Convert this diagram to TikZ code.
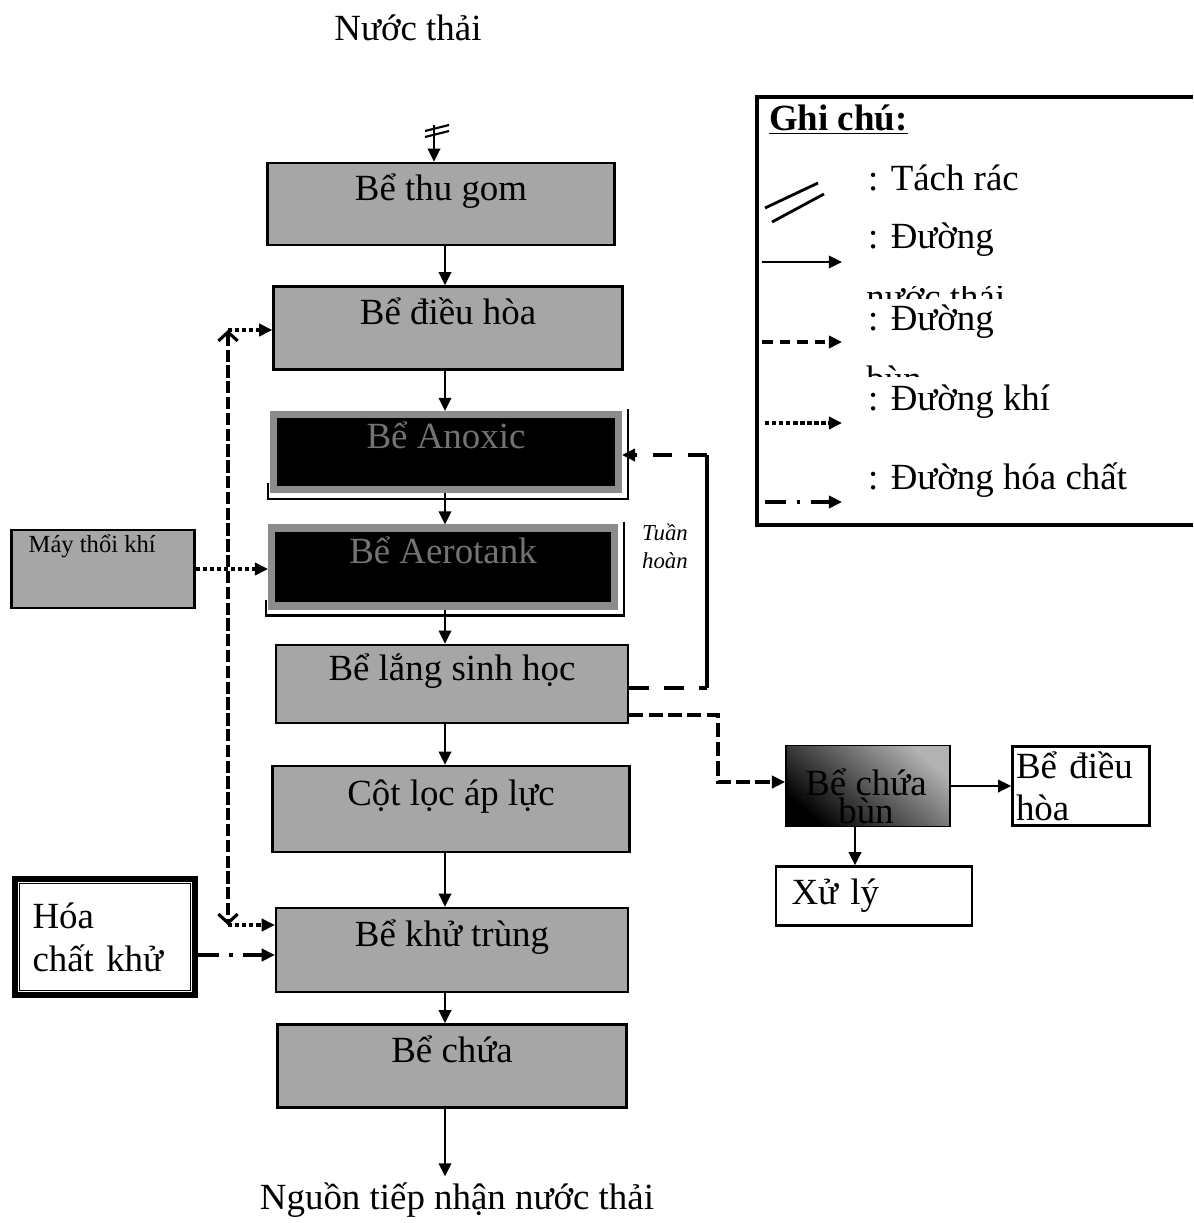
\documentclass[tikz,border=0pt]{standalone}
\usepackage{fontspec}
\setmainfont{Liberation Serif}
\usetikzlibrary{arrows.meta}

\begin{document}
\begin{tikzpicture}[
    x=0.02cm,
    y=-0.02cm,
    >={Triangle[length=7.5pt,width=7pt]},
    big/.style={font=\fontsize{21}{25}\selectfont},
    tank/.style={
        draw,
        line width=1.4pt,
        fill=black!35,
        big,
        text height=0.55cm,
        text depth=0.7cm
    },
    darktank/.style={
        tank,
        fill=black,
        draw=black!45,
        line width=4pt,
        text=black!55
    },
    plainbox/.style={
        draw,
        line width=1.4pt,
        align=left,
        inner sep=2pt
    },
    flow/.style={->,line width=1.6pt},
    sludge/.style={->,line width=1.8pt,dash pattern=on 8pt off 3pt},
    recycle/.style={line width=1.8pt,dash pattern=on 11pt off 9pt},
    air/.style={->,line width=1.8pt,dash pattern=on 2.5pt off 1.5pt},
    airpipe/.style={
        {Straight Barb[length=5pt,width=11pt]}-{Straight Barb[length=5pt,width=11pt]},
        line width=1.8pt,
        dash pattern=on 7pt off 2pt
    },
    chem/.style={->,line width=1.8pt,dash pattern=on 12pt off 6pt on 2pt off 6pt}
]

\useasboundingbox (0,0) rectangle (1193,1223);

\node[big] (nuocThai) at (408,28) {Nước thải};

\node[tank,minimum width=6.94cm,minimum height=1.64cm] (thuGom) at (441,204) {Bể thu gom};
\node[tank,minimum width=6.98cm,minimum height=1.66cm] (dieuHoa) at (448,328) {Bể điều hòa};
\node[darktank,minimum width=6.9cm,minimum height=1.5cm] (anoxic) at (446,452) {Bể Anoxic};
\node[darktank,minimum width=6.86cm,minimum height=1.56cm] (aerotank) at (443,567) {Bể Aerotank};
\node[tank,minimum width=7.04cm,minimum height=1.56cm] (lang) at (452,684) {Bể lắng sinh học};
\node[tank,minimum width=7.14cm,minimum height=1.72cm] (cotLoc) at (451,809) {Cột lọc áp lực};
\node[tank,minimum width=7.04cm,minimum height=1.68cm] (khuTrung) at (452,950) {Bể khử trùng};
\node[tank,minimum width=6.98cm,minimum height=1.66cm] (beChua) at (452,1066) {Bể chứa};

\node[big] (nguon) at (457,1200) {Nguồn tiếp nhận nước thải};

\draw[line width=1.4pt] ([shift={(6,-2)}]anoxic.north east) -- ([shift={(6,6)}]anoxic.south east) -- ([shift={(-2,6)}]anoxic.south west) -- ([shift={(-2,-10)}]anoxic.south west);
\draw[line width=1.4pt] ([shift={(6,-2)}]aerotank.north east) -- ([shift={(6,6)}]aerotank.south east) -- ([shift={(-2,6)}]aerotank.south west) -- ([shift={(-2,-10)}]aerotank.south west);

\coordinate (col) at (445,0);
\coordinate (inlet) at (434,125);

\draw[flow] (inlet) -- (inlet |- thuGom.north);
\draw[line width=1.2pt] (425,131) -- (449,125);
\draw[line width=1.2pt] (425,137) -- (449,131);

\draw[flow] (thuGom.south -| col) -- (dieuHoa.north -| col);
\draw[flow] (dieuHoa.south -| col) -- (anoxic.north -| col);
\draw[flow] (anoxic.south -| col) -- (aerotank.north -| col);
\draw[flow] (aerotank.south -| col) -- (lang.north -| col);
\draw[flow] (lang.south -| col) -- (cotLoc.north -| col);
\draw[flow] (cotLoc.south -| col) -- (khuTrung.north -| col);
\draw[flow] (khuTrung.south -| col) -- (beChua.north -| col);
\draw[flow] (beChua.south -| col) -- (nguon.north -| col);

% khi
\node[draw,line width=1.4pt,fill=black!35,minimum width=3.66cm,minimum height=1.56cm,
    label={[anchor=north west,xshift=0.36cm,yshift=-0.12cm,inner sep=0pt,font=\fontsize{14}{16}\selectfont]north west:Máy thổi khí}]
    (mayThoi) at (103,569) {};

\coordinate (airTop) at (228,330);
\coordinate (airBot) at (228,925);

\draw[air] (mayThoi.east) -- (mayThoi.east -| aerotank.west);
\draw[airpipe] (airTop) -- (airBot);
\draw[air] (airTop) -- (airTop -| dieuHoa.west);
\draw[air] (airBot) -- (airBot -| khuTrung.west);

% hoa chat
\node[plainbox,line width=3pt,minimum width=3.6cm,minimum height=2.32cm,text width=2.9cm,
    font=\fontsize{21}{24.5}\selectfont] (hoaChat) at (105,937) {Hóa\\chất khử};
\draw[line width=0.8pt] ([shift={(7,7)}]hoaChat.north west) rectangle ([shift={(-7,-7)}]hoaChat.south east);
\draw[chem] ([yshift=-0.36cm]hoaChat.east) -- ([yshift=-0.36cm]hoaChat.east -| khuTrung.west);

% tuan hoan
\coordinate (recTop) at (707,455);
\coordinate (recBot) at (707,688);

\draw[recycle] (lang.east |- recBot) -- (recBot);
\draw[line width=1.8pt] (recBot) -- (recTop);
\draw[recycle,->] (recTop) -- (recTop -| anoxic.east);
\node[font=\itshape\fontsize{13}{16}\selectfont,align=left] (tuanHoan) at (665,546) {Tuần\\hoàn};

% bun
\node[draw,line width=1pt,top color=black!30,bottom color=black,shading angle=-40,
    minimum width=3.28cm,minimum height=1.62cm] (chuaBun) at (868,786) {};
\node[align=center,font=\fontsize{21}{14}\selectfont] (chuaBunText) at (866,796) {Bể chứa\\bùn};

\node[plainbox,minimum width=2.74cm,minimum height=1.58cm,text width=2.6cm,
    font=\fontsize{21}{24}\selectfont] (dieuHoaB) at (1081,786) {Bể điều\\hòa};
\node[plainbox,minimum width=3.92cm,minimum height=1.18cm,text width=3.3cm,
    font=\fontsize{21}{24}\selectfont] (xuLy) at (874,896) {Xử lý};

\coordinate (bunA) at (718,715);
\coordinate (bunB) at (718,782);

\draw[sludge] (lang.east |- bunA) -- (bunA) -- (bunB) -- (bunB -| chuaBun.west);
\draw[flow] (chuaBun.east) -- (dieuHoaB.west);
\draw[flow] ([xshift=-0.26cm]chuaBun.south) -- ([xshift=-0.26cm]chuaBun.south |- xuLy.north);

% ghi chu
\draw[line width=1.8pt] (1193,97) -- (757,97) -- (757,525) -- (1193,525);
\node[anchor=west,font=\bfseries\fontsize{21}{25}\selectfont] (ghiChu) at (763,120) {\underline{Ghi chú:}};

\node[big,anchor=west] (tachRac) at (862,178) {: Tách rác};
\node[big,anchor=west] (duongNuoc) at (862,240) {: Đường};
\node[big,anchor=west] (duongBun) at (862,322) {: Đường};
\node[big,anchor=west] (duongKhi) at (862,402) {: Đường khí};
\node[big,anchor=west] (duongHoa) at (862,480) {: Đường hóa chất};

\begin{scope}
    \clip (860,286) rectangle (1020,298);
    \node[big,anchor=base west,inner sep=0pt] at (866,309) {nước thải};
\end{scope}
\begin{scope}
    \clip (860,364) rectangle (1020,376);
    \node[big,anchor=base west,inner sep=0pt] at (866,391) {bùn};
\end{scope}

\draw[line width=1.6pt] (765,208) -- (818,183);
\draw[line width=1.6pt] (772,222) -- (824,194);
\draw[flow] (762,262) -- (842,262);
\draw[->,line width=1.8pt,dash pattern=on 6pt off 4pt] (762,342) -- (842,342);
\draw[air] (765,423) -- (842,423);
\draw[chem] (765,502) -- (842,502);

\end{tikzpicture}
\end{document}
